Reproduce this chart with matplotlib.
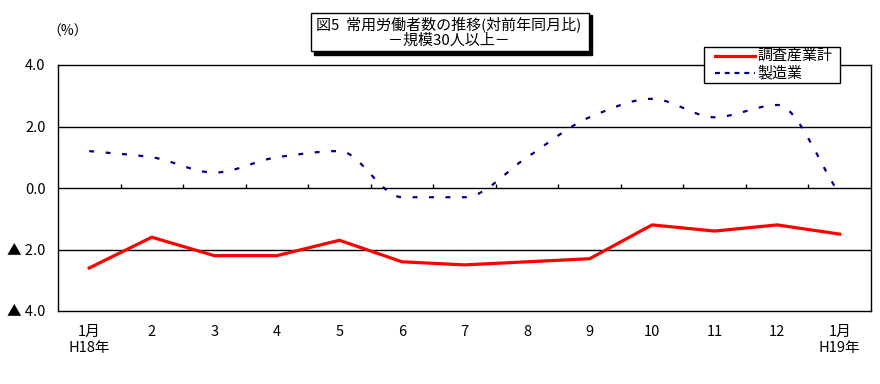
import matplotlib
matplotlib.use("Agg")
import matplotlib.pyplot as plt
import numpy as np
from matplotlib.patches import Rectangle, PathPatch
from matplotlib.path import Path
from matplotlib.lines import Line2D

plt.rcParams["font.family"] = ["Noto Sans CJK JP", "DejaVu Sans"]

months = ["1月\nH18年", "2", "3", "4", "5", "6", "7", "8", "9", "10", "11", "12", "1月\nH19年"]
total = [-2.6, -1.6, -2.2, -2.2, -1.7, -2.4, -2.5, -2.4, -2.3, -1.2, -1.4, -1.2, -1.5]
manufacturing = [1.2, 1.0, 0.5, 1.0, 1.2, -0.3, -0.3, 1.0, 2.3, 2.9, 2.3, 2.7, -0.2]
y_ticks = [-4.0, -2.0, 0.0, 2.0, 4.0]
y_labels = ["▲ 4.0", "▲ 2.0", "0.0", "2.0", "4.0"]
series_names = ["調査産業計", "製造業"]

title_lines = "図5  常用労働者数の推移(対前年同月比)\n－規模30人以上－"
RED = "#ff0000"
NAVY = "#000080"
BLUE_DASH = (0, (2.2, 5.2))


def smooth_path(xs, ys):
    # monotone (pchip-like) cubic drawn as bezier segments through the points
    xs = np.asarray(xs, float)
    ys = np.asarray(ys, float)
    d = np.diff(ys) / np.diff(xs)
    m = np.zeros(len(ys))
    m[0], m[-1] = d[0], d[-1]
    for k in range(1, len(ys) - 1):
        if d[k - 1] * d[k] > 0:
            m[k] = 2 / (1 / d[k - 1] + 1 / d[k])
    verts = [(xs[0], ys[0])]
    codes = [Path.MOVETO]
    for i in range(len(xs) - 1):
        h = xs[i + 1] - xs[i]
        verts += [(xs[i] + h / 3, ys[i] + m[i] * h / 3),
                  (xs[i + 1] - h / 3, ys[i + 1] - m[i + 1] * h / 3),
                  (xs[i + 1], ys[i + 1])]
        codes += [Path.CURVE4] * 3
    return Path(verts, codes)


fig = plt.figure(figsize=(8.8, 3.84), dpi=100)
W, H = 880, 384
ax = fig.add_axes([58 / W, 1 - 311 / H, (871 - 58) / W, (311 - 65) / H])

x = np.arange(len(months))
ax.set_xlim(-0.5, len(months) - 0.5)
ax.set_ylim(-4.0, 4.0)

for v in [-2.0, 0.0, 2.0]:
    ax.axhline(v, color="black", linewidth=1.0, zorder=1)
ax.vlines(x[:-1] + 0.5, 0, 0.13, color="black", linewidth=1.0, zorder=1)

ax.plot(x, total, color=RED, linewidth=2.3, zorder=3, solid_joinstyle="round")
blue = PathPatch(smooth_path(x, manufacturing), facecolor="none", edgecolor=NAVY,
                 linewidth=1.6, linestyle=BLUE_DASH, zorder=3)
ax.add_patch(blue)

ax.set_yticks(y_ticks)
ax.set_yticklabels(y_labels, fontsize=10.5)
ax.set_xticks(x)
ax.set_xticklabels(months, fontsize=10.5, linespacing=1.2, va="top")
ax.tick_params(axis="both", length=0)
ax.tick_params(axis="y", pad=9)
ax.tick_params(axis="x", pad=10)
for spine in ax.spines.values():
    spine.set_linewidth(1.0)
    spine.set_color("black")

fig.text(47 / W, 1 - 32 / H, "（%）", fontsize=10, va="center", ha="left")

# title box with drop shadow
shadow = Rectangle((314 / W, 1 - 55 / H), 278 / W, 40 / H, transform=fig.transFigure,
                   facecolor="black", edgecolor="black", zorder=5)
box = Rectangle((311 / W, 1 - 51 / H), 278 / W, 38 / H, transform=fig.transFigure,
                facecolor="white", edgecolor="black", linewidth=1.0, zorder=6)
fig.patches.extend([shadow, box])
fig.text(449 / W, 1 - 32 / H, title_lines, fontsize=10.8, ha="center", va="center",
         linespacing=1.05, zorder=7)

# legend box drawn by hand so the rows sit where the original has them
leg_box = Rectangle((704 / W, 1 - 83 / H), 136 / W, 36 / H, transform=fig.transFigure,
                    facecolor="white", edgecolor="black", linewidth=1.0, zorder=8)
fig.patches.append(leg_box)
for row, (name, color, lw, ls) in enumerate(zip(series_names, [RED, NAVY], [2.3, 1.6],
                                                  ["-", (0, (2.2, 2.2))])):
    yy = 1 - (56 + 17 * row) / H
    fig.lines.append(Line2D([715 / W, 755 / W], [yy, yy], transform=fig.transFigure,
                            color=color, linewidth=lw, linestyle=ls, zorder=9))
    fig.text(757 / W, yy, name, fontsize=10.8, ha="left", va="center", zorder=9)

fig.savefig("out.png", dpi=100)
